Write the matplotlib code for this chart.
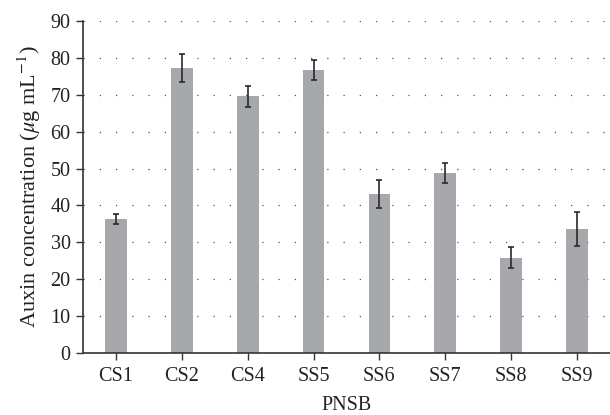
import matplotlib as mpl
mpl.use('Agg')
import matplotlib.pyplot as plt
import numpy as np

# auxin production per PNSB isolate
strains = ['CS1', 'CS2', 'CS4', 'SS5', 'SS6', 'SS7', 'SS8', 'SS9']
auxin = [36.3, 77.3, 69.6, 76.7, 43.1, 48.8, 25.8, 33.6]
auxin_err = [1.3, 3.8, 2.8, 2.8, 3.8, 2.8, 2.8, 4.6]

plt.rcParams['font.family'] = ['Liberation Serif', 'DejaVu Serif']
plt.rcParams['mathtext.fontset'] = 'stix'

fig = plt.figure(figsize=(6.1, 4.15), dpi=100)
ax = fig.add_axes([83/610, 1-353/415, 1-83/610, (353-21)/415])

x = np.arange(len(strains))
ax.bar(x, auxin, width=0.33, color='#a7a8ac', zorder=2)
ax.errorbar(x, auxin, yerr=auxin_err, fmt='none', ecolor='#2a2a2a',
            elinewidth=1.2, capsize=2, capthick=1.2, zorder=3)

ax.set_xlim(-0.5, 7.5)
ax.set_ylim(0, 90)
ax.set_yticks(range(0, 91, 10))
ax.set_xticks(x)
ax.set_xticklabels(strains)

# dotted horizontal grid
for yv in range(10, 91, 10):
    ax.axhline(yv, color='#555555', lw=0.9, linestyle=(0, (1, 12)), zorder=1)

for s in ['top', 'right']:
    ax.spines[s].set_visible(False)
for s in ['left', 'bottom']:
    ax.spines[s].set_color('#333333')
    ax.spines[s].set_linewidth(1.2)

ax.tick_params(axis='both', direction='out', length=5, width=1.0,
               colors='#333333', labelsize=14.5, labelcolor='#222222')
ax.tick_params(axis='x', pad=5)
ax.tick_params(axis='y', pad=4)

ax.set_xlabel('PNSB', fontsize=14.5, color='#222222', labelpad=7)
ax.set_ylabel(r'Auxin concentration ($\mu$g mL$^{-1}$)', fontsize=16,
              color='#222222', labelpad=5)

fig.savefig('out.png')
